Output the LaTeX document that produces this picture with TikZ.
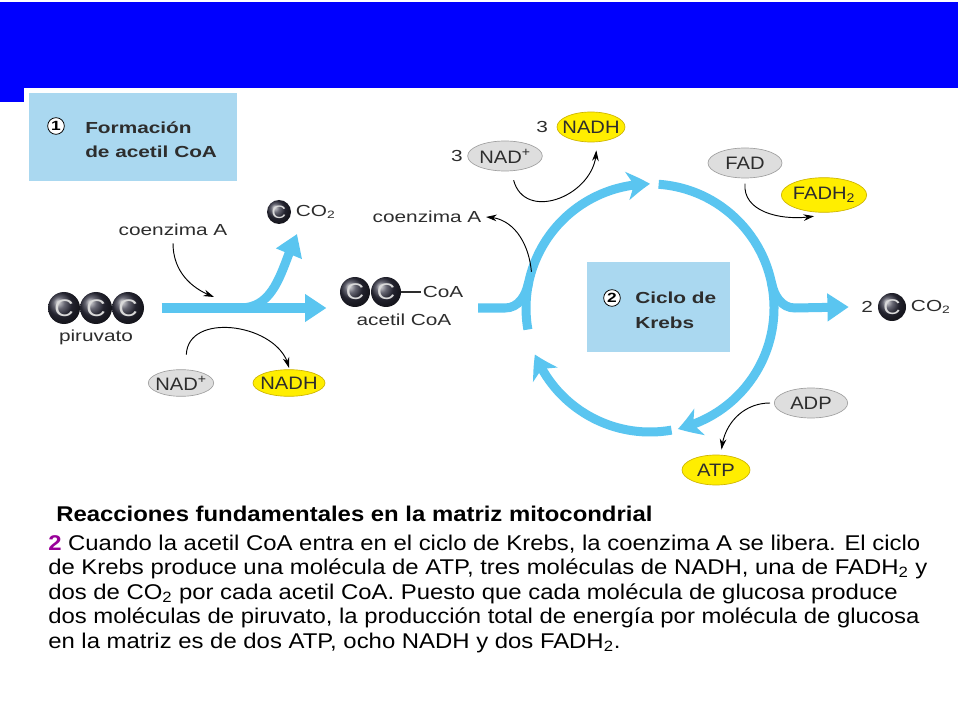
\documentclass[tikz,border=0pt]{standalone}
\usepackage{fontspec}
\setmainfont{Liberation Sans}
\newfontfamily\diagsf[FakeStretch=1.3]{Liberation Sans}
\newfontfamily\bodysf[FakeStretch=1.12]{Liberation Sans}
\usetikzlibrary{positioning,arrows.meta,shapes.geometric,bending}

\definecolor{slide}{RGB}{0,0,255}
\definecolor{panel}{RGB}{170,216,240}
\definecolor{flow}{RGB}{90,197,240}
\definecolor{oxfill}{RGB}{222,222,222}
\definecolor{oxdraw}{RGB}{160,160,160}
\definecolor{redfill}{RGB}{255,238,0}
\definecolor{reddraw}{RGB}{205,180,0}
\definecolor{atom}{RGB}{50,50,66}
\definecolor{stepcol}{RGB}{153,0,153}
\definecolor{ink}{RGB}{45,45,45}

\newcommand{\nowidth}[1]{\makebox[0pt]{#1}}

\begin{document}
\begin{tikzpicture}[x=0.75pt,y=0.75pt,
    font=\diagsf\fontsize{12}{14}\selectfont,text=ink,
    flowline/.style={draw=flow,line width=6.75pt},
    flowarrow/.style={flowline,-{Triangle[length=16pt,width=20pt]}},
    cyclearrow/.style={flowline,-{Stealth[length=17pt,width=21pt,inset=5pt,bend]}},
    thinarrow/.style={draw=black,line width=0.7pt,-{Stealth[length=8pt,width=5pt]}},
    panelbox/.style={fill=panel,inner sep=0pt},
    atomball/.style 2 args={circle,ball color=atom,minimum size=#1,inner sep=0pt,
                     text=white!85!black,font=\bodysf\fontsize{#2}{#2}\selectfont},
    oxidized/.style={ellipse,fill=oxfill,draw=oxdraw,line width=0.5pt,inner sep=0pt,
                     minimum width=#1,minimum height=22.5pt,font=\bodysf\fontsize{13.5}{14}\selectfont},
    reduced/.style={ellipse,fill=redfill,draw=reddraw,line width=0.5pt,inner sep=0pt,
                    minimum width=#1,minimum height=22.5pt,font=\bodysf\fontsize{13.5}{14}\selectfont},
    stepnum/.style={circle,draw=black,line width=0.6pt,fill=white,inner sep=0pt,
                    minimum size=12.5pt,text=black,font=\diagsf\bfseries\fontsize{10}{10}\selectfont},
    boxlabel/.style={anchor=base west,inner sep=0pt,
                     font=\diagsf\bfseries\fontsize{12}{14}\selectfont},
    bodyline/.style={anchor=base west,inner sep=0pt,text=black,
                     font=\bodysf\fontsize{16}{18}\selectfont}]

  % slide frame
  \fill[white] (0,0) rectangle (960,-720);
  \useasboundingbox (0,0) rectangle (960,-720);
  \fill[slide] (0,-2) rectangle (958,-88);
  \fill[slide] (0,-88) rectangle (24,-102);

  % step 1: acetil CoA
  \node[panelbox,minimum width=156pt,minimum height=66pt] (box1) at (133,-137) {};
  \node[stepnum] (num1) at (56,-126) {1};
  \node[boxlabel] (box1a) at (85,-134) {Formación};
  \node[boxlabel] (box1b) at (85,-158) {de acetil CoA};

  \foreach \i/\x in {1/64,2/96,3/128}
    \node[atomball={24pt}{18}] (pyr\i) at (\x,-308) {C};
  \node[below=1pt of pyr2] (pyrlbl) {piruvato};
  \node[atomball={18pt}{13.5}] (co2a) at (279,-212) {C};
  \node[right=0pt of co2a] (co2albl) {CO\textsubscript{2}};
  \node (coa1) at (173,-230) {coenzima A};
  \node[oxidized=49pt,minimum height=20pt] (nad1) at (181,-383) {\nowidth{NAD\textsuperscript{+}}};
  \node[reduced=54pt,minimum height=20pt] (nadh1) at (289,-383) {\nowidth{NADH}};

  \node[atomball={22.5pt}{17}] (acet1) at (355,-292) {C};
  \node[atomball={22.5pt}{17}] (acet2) at (386,-292) {C};
  \node[right=15pt of acet2,inner sep=1pt] (acetcoa) {CoA};
  \node (acetlbl) at (404,-320) {acetil CoA};
  \coordinate (split) at (240,-308);
  \coordinate (co2tip) at (297,-234);
  \coordinate (coa1tip) at (214,-297);
  \coordinate (kin) at (478,-308);

  \draw[flowarrow] ([xshift=13pt]pyr3.east) -- ([xshift=-10pt]acet1.west |- pyr3.east);
  \draw[flowarrow] (split) to[out=0,in=245] (co2tip);
  \draw[ink,line width=1pt] (acet2.east) -- (acetcoa.west);
  \draw[thinarrow] ([yshift=-2pt]coa1.south) to[out=-90,in=160] (coa1tip);
  \draw[thinarrow] ([shift={(4pt,11pt)}]nad1.north) to[out=88,in=100,looseness=1.1] ([yshift=1pt]nadh1.north);

  % step 2: ciclo de Krebs
  \coordinate (K) at (650,-308);
  \node[panelbox,minimum width=107pt,minimum height=67.5pt] (box2) at (658.5,-307) {};
  \node[stepnum] (num2) at (612,-298) {2};
  \node[boxlabel] (box2a) at (635,-304) {Ciclo de};
  \node[boxlabel] (box2b) at (635,-328) {Krebs};

  \draw[flowline] (kin) -- (505,-308) to[out=0,in=258] ([shift={(168:124)}]K);
  \draw[cyclearrow] ([shift={(190:124)}]K) arc[start angle=190,end angle=90,radius=124];
  \draw[cyclearrow] ([shift={(86:124)}]K) arc[start angle=86,end angle=-77,radius=124];
  \draw[cyclearrow] ([shift={(-80:124)}]K) arc[start angle=-80,end angle=-158,radius=124];

  \node[atomball={21pt}{16}] (co2b) at (892,-307) {C};
  \node[left=0pt of co2b] (two) {2};
  \node[right=0pt of co2b] (co2blbl) {CO\textsubscript{2}};
  \draw[flowarrow] ([shift={(12:124)}]K) to[out=-78,in=180] (795,-308) -- ([xshift=-6pt]two.west);

  \node[reduced=51pt] (nadh3) at (591,-127) {\nowidth{NADH}};
  \node[left=3pt of nadh3] (nadh3n) {3};
  \node[oxidized=56pt] (nad3) at (505,-156) {\nowidth{NAD\textsuperscript{+}}};
  \node[left=0pt of nad3] (nad3n) {3};
  \node (coa2) at (427,-217) {coenzima A};
  \node[oxidized=55.5pt] (fad) at (745,-163) {\nowidth{FAD}};
  \node[reduced=64pt,minimum height=26pt] (fadh2) at (824,-195) {\nowidth{FADH\textsubscript{2}}};
  \node[oxidized=55pt] (adp) at (811,-403) {\nowidth{ADP}};
  \node[reduced=51pt] (atp) at (716,-470) {\nowidth{ATP}};

  \draw[thinarrow] ([yshift=-7pt]nad3.-60) to[out=-75,in=-90,looseness=1.3] ([xshift=4pt,yshift=-6pt]nadh3.south);
  \draw[thinarrow] ([shift={(163:124)}]K) to[out=95,in=0] (coa2.east);
  \draw[thinarrow] ([yshift=-4pt]fad.south) to[out=-95,in=190] ([yshift=-3pt]fadh2.240);
  \draw[thinarrow] ([xshift=-3pt]adp.west) to[out=180,in=85] ([yshift=4pt]atp.70);

  % text below
  \node[bodyline,font=\bodysf\bfseries\fontsize{16}{18}\selectfont] (title) at (56,-521)
    {Reacciones fundamentales en la matriz mitocondrial};
  \node[bodyline] (line1) at (48,-550)
    {\textcolor{stepcol}{\bfseries 2} Cuando la acetil CoA entra en el ciclo de Krebs, la coenzima A se libera. El ciclo};
  \node[bodyline] (line2) at ([yshift=-18.4pt]line1.base west)
    {de Krebs produce una molécula de ATP, tres moléculas de NADH, una de FADH\textsubscript{2} y};
  \node[bodyline] (line3) at ([yshift=-18.4pt]line2.base west)
    {dos de CO\textsubscript{2} por cada acetil CoA. Puesto que cada molécula de glucosa produce};
  \node[bodyline] (line4) at ([yshift=-18.4pt]line3.base west)
    {dos moléculas de piruvato, la producción total de energía por molécula de glucosa};
  \node[bodyline] (line5) at ([yshift=-18.4pt]line4.base west)
    {en la matriz es de dos ATP, ocho NADH y dos FADH\textsubscript{2}.};
\end{tikzpicture}
\end{document}
